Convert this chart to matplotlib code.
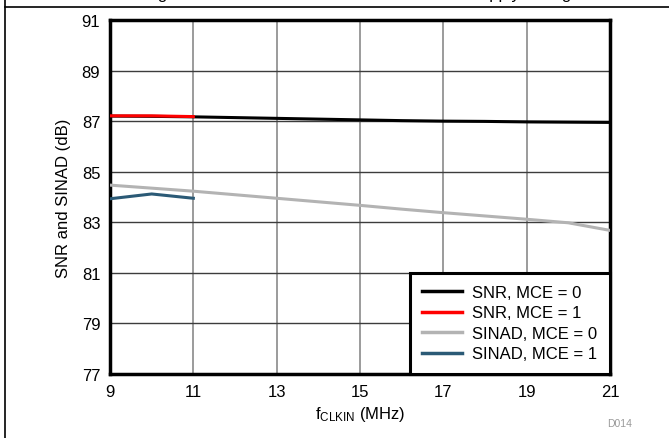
import matplotlib
matplotlib.use("Agg")
import matplotlib.pyplot as plt
from matplotlib.lines import Line2D

plt.rcParams['font.family'] = ['Liberation Sans', 'DejaVu Sans']
plt.rcParams['mathtext.fontset'] = 'custom'
plt.rcParams['mathtext.rm'] = 'Liberation Sans'
plt.rcParams['mathtext.it'] = 'Liberation Sans'

# clock frequency (MHz)
f_clkin = [9, 10, 11, 12, 13, 14, 15, 16, 17, 18, 19, 20, 21]
f_clkin_mce1 = [9, 10, 11]

snr_mce0 = [87.20, 87.19, 87.17, 87.14, 87.11, 87.08, 87.05, 87.02, 87.00, 86.99, 86.97, 86.96, 86.95]
snr_mce1 = [87.21, 87.21, 87.18]
sinad_mce0 = [84.47, 84.35, 84.23, 84.09, 83.95, 83.81, 83.67, 83.52, 83.38, 83.25, 83.12, 82.98, 82.68]
sinad_mce1 = [83.93, 84.12, 83.95]

series_labels = ['SNR, MCE = 0', 'SNR, MCE = 1', 'SINAD, MCE = 0', 'SINAD, MCE = 1']
series_colors = ['#000000', '#ff0000', '#b3b3b3', '#2b5a76']

x_ticks = [9, 11, 13, 15, 17, 19, 21]
y_ticks = [77, 79, 81, 83, 85, 87, 89, 91]

fig = plt.figure(figsize=(6.69, 4.39), dpi=100)
ax = fig.add_axes([110 / 669, 64 / 439, 500 / 669, 354 / 439])

ax.plot(f_clkin, snr_mce0, color=series_colors[0], lw=2.2, label=series_labels[0], zorder=3)
ax.plot(f_clkin_mce1, snr_mce1, color=series_colors[1], lw=2.2, label=series_labels[1], zorder=4)
ax.plot(f_clkin, sinad_mce0, color=series_colors[2], lw=2.2, label=series_labels[2], zorder=3)
ax.plot(f_clkin_mce1, sinad_mce1, color=series_colors[3], lw=2.2, label=series_labels[3], zorder=4)

ax.set_xlim(9, 21)
ax.set_ylim(77, 91)
ax.set_xticks(x_ticks)
ax.set_yticks(y_ticks)
ax.tick_params(length=0, labelsize=12, pad=7)
ax.grid(True, axis='y', color='#3c3c3c', lw=1.0)
ax.grid(True, axis='x', color='#8a8a8a', lw=1.2)
ax.set_axisbelow(True)
for s in ax.spines.values():
    s.set_linewidth(2.5)
    s.set_color('black')

ax.set_xlabel(r'f$_{\mathrm{CLKIN}}$ (MHz)', fontsize=12, labelpad=4)
ax.set_ylabel('SNR and SINAD (dB)', fontsize=12, labelpad=8)

leg = ax.legend(loc='lower right', bbox_to_anchor=(1.0, 0.0), borderaxespad=0,
                fancybox=False, edgecolor='black', framealpha=1, fontsize=12,
                handlelength=2.4, handletextpad=0.6, labelspacing=0.33,
                borderpad=0.75)
leg.get_frame().set_linewidth(2.2)
for h in leg.get_lines():
    h.set_linewidth(2.5)

fig.text(620 / 669, 1 - 424 / 439, 'D014', fontsize=7.5, color='#9a9a9a', ha='center', va='center')

# frame pieces and clipped caption from the page
fig.add_artist(Line2D([5 / 669, 5 / 669], [0, 1], color='black', lw=1.2))
fig.add_artist(Line2D([5 / 669, 1], [1 - 7.5 / 439, 1 - 7.5 / 439], color='black', lw=1.2))
fig.text(144 / 669, 1 + 0.5 / 439, 'Figure 14. SNR and SINAD vs fCLKIN With Supply Voltage',
         fontsize=12, ha='left', va='baseline')

fig.savefig('out.png', dpi=100)
